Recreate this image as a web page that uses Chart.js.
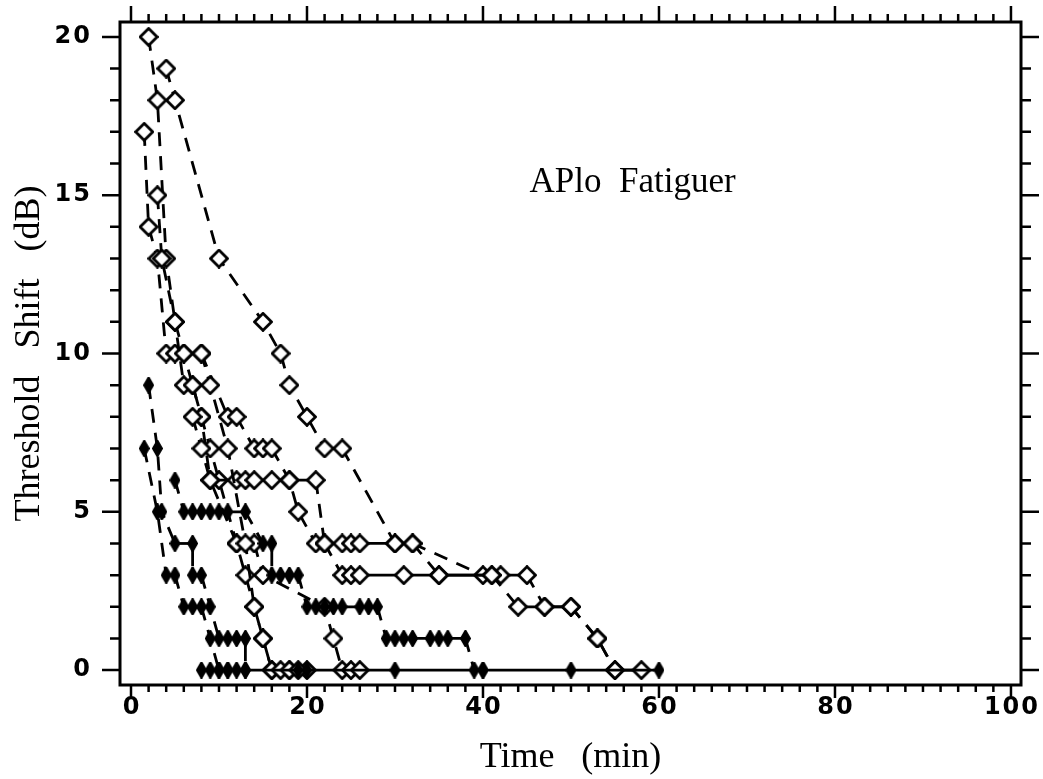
<!DOCTYPE html>
<html>
<head>
<meta charset="utf-8">
<script src="https://cdn.jsdelivr.net/npm/chart.js@4"></script>
<style>
  html, body { margin: 0; padding: 0; background: #fff; }
  #wrap { width: 1043px; height: 779px; }
</style>
</head>
<body>
<div id="wrap"><canvas id="fatigueChart" width="1043" height="779"></canvas></div>
<script>
// recovery curves: time (min) vs threshold shift (dB)
const open1Time = [2, 3, 4, 5, 6, 7, 8, 9, 10, 12, 13, 14, 15, 16, 18, 20];
const open1Shift = [20, 18, 13, 11, 10, 9, 8, 7, 6, 4, 3, 2, 1, 0, 0, 0];

const open2Time = [4, 5, 10, 15, 17, 18, 20, 22, 24, 30, 32, 40, 42, 45, 47, 50, 53, 55, 58];
const open2Shift = [19, 18, 13, 11, 10, 9, 8, 7, 7, 4, 4, 3, 3, 3, 2, 2, 1, 0, 0];

const open3Time = [1.5, 2, 3, 4, 5, 6, 8, 11, 12, 14, 15, 16, 18, 19, 21, 22, 24, 25, 26, 31, 35, 41, 44, 47, 50, 53, 55];
const open3Shift = [17, 14, 13, 10, 10, 10, 10, 8, 8, 7, 7, 7, 6, 5, 4, 4, 3, 3, 3, 3, 3, 3, 2, 2, 2, 1, 0];

const open4Time = [3, 3.5, 5, 6, 7, 8, 9, 12, 13, 14, 16, 18, 21, 22, 24, 25, 26, 30, 32, 35, 41];
const open4Shift = [15, 13, 11, 9, 9, 8, 6, 6, 6, 6, 6, 6, 6, 4, 4, 4, 4, 4, 4, 3, 3];

const open5Time = [7, 8, 9, 12, 14, 15, 22, 23, 24, 25, 26];
const open5Shift = [8, 7, 6, 4, 4, 3, 2, 1, 0, 0, 0];

const open6Time = [8, 9, 11, 13, 14, 15, 16, 17, 18, 19];
const open6Shift = [10, 9, 7, 4, 2, 1, 0, 0, 0, 0];

const filled1Time = [1.5, 3, 4, 5, 6, 7, 8, 9, 10, 11];
const filled1Shift = [7, 5, 3, 3, 2, 2, 2, 1, 0, 0];

const filled2Time = [2, 3, 3.5, 5, 7, 7, 8, 9, 10, 11, 12, 13, 13];
const filled2Shift = [9, 7, 5, 4, 4, 3, 3, 2, 1, 1, 1, 1, 0];

const filled3Time = [5, 6, 7, 8, 9, 10, 11, 13, 15, 16, 16, 17, 18, 19, 20, 21, 22, 23, 24, 26, 27, 28, 29, 30, 31, 32, 34, 35, 36, 38, 39, 40];
const filled3Shift = [6, 5, 5, 5, 5, 5, 5, 5, 4, 4, 3, 3, 3, 3, 2, 2, 2, 2, 2, 2, 2, 2, 1, 1, 1, 1, 1, 1, 1, 1, 0, 0];

const filled4Time = [8, 9, 10, 11, 12, 13, 19, 20, 30, 40, 50, 60];
const filled4Shift = [0, 0, 0, 0, 0, 0, 0, 0, 0, 0, 0, 0];

const xTickLabels = [0, 20, 40, 60, 80, 100];
const yTickLabels = [0, 5, 10, 15, 20];

const makeDiamond = (w, h, filled) => {
    const c = document.createElement('canvas');
    c.width = w;
    c.height = h;
    const g = c.getContext('2d');
    g.beginPath();
    g.moveTo(w / 2, 1.5);
    g.lineTo(w - 1.5, h / 2);
    g.lineTo(w / 2, h - 1.5);
    g.lineTo(1.5, h / 2);
    g.closePath();
    g.fillStyle = filled ? '#000' : '#fff';
    g.fill();
    g.lineWidth = 2.8;
    g.strokeStyle = '#000';
    g.stroke();
    return c;
};

const openMark = makeDiamond(20, 20, false);
const filledMark = makeDiamond(11, 17, true);

const toPoints = (times, shifts) => times.map((t, i) => ({ x: t, y: shifts[i] }));

const makeSeries = (times, shifts, filled) => ({
    data: toPoints(times, shifts),
    showLine: true,
    borderColor: '#000',
    borderWidth: 2.8,
    pointStyle: filled ? filledMark : openMark,
    pointRadius: 10,
    pointHoverRadius: 10,
    segment: {
        borderDash: ctx => ctx.p0.parsed.y === ctx.p1.parsed.y ? [] : [14, 10]
    }
});

// frame, tick marks on all four sides (long at labelled values), tick labels, note
const framePlugin = {
    id: 'frame',
    beforeDatasetsDraw(chart) {
        const { ctx, chartArea: a, scales: { x, y } } = chart;
        ctx.save();
        ctx.strokeStyle = '#000';
        ctx.lineWidth = 3;
        ctx.strokeRect(a.left, a.top, a.right - a.left, a.bottom - a.top);
        ctx.lineWidth = 2.5;
        ctx.beginPath();
        for (let v = 0; v <= 100; v += 2) {
            const px = x.getPixelForValue(v);
            const major = v % 20 === 0;
            ctx.moveTo(px, a.bottom);
            ctx.lineTo(px, a.bottom + (major ? 13 : 7));
            ctx.moveTo(px, a.top);
            ctx.lineTo(px, a.top - (major ? 16 : 8));
        }
        for (let v = 0; v <= 20; v += 1) {
            const py = y.getPixelForValue(v);
            const len = v % 5 === 0 ? 18 : 10;
            ctx.moveTo(a.left, py);
            ctx.lineTo(a.left - len, py);
            ctx.moveTo(a.right, py);
            ctx.lineTo(a.right + len, py);
        }
        ctx.stroke();

        ctx.fillStyle = '#000';
        ctx.font = 'bold 24px "DejaVu Sans"';
        ctx.letterSpacing = '2px';
        ctx.textBaseline = 'middle';
        ctx.textAlign = 'center';
        xTickLabels.forEach(v => {
            ctx.fillText(String(v), x.getPixelForValue(v) + 1, a.bottom + 23);
        });
        ctx.textAlign = 'right';
        yTickLabels.forEach(v => {
            ctx.fillText(String(v), a.left - 28, y.getPixelForValue(v));
        });

        ctx.letterSpacing = '0px';
        ctx.font = '35px "Liberation Serif"';
        ctx.textAlign = 'center';
        ctx.fillText('APlo  Fatiguer', x.getPixelForValue(57), y.getPixelForValue(15.4));
        ctx.restore();
    }
};

new Chart(document.getElementById('fatigueChart'), {
    type: 'scatter',
    data: {
        datasets: [
            makeSeries(filled4Time, filled4Shift, true),
            makeSeries(filled3Time, filled3Shift, true),
            makeSeries(filled2Time, filled2Shift, true),
            makeSeries(filled1Time, filled1Shift, true),
            makeSeries(open6Time, open6Shift, false),
            makeSeries(open5Time, open5Shift, false),
            makeSeries(open4Time, open4Shift, false),
            makeSeries(open3Time, open3Shift, false),
            makeSeries(open2Time, open2Shift, false),
            makeSeries(open1Time, open1Shift, false)
        ]
    },
    options: {
        responsive: false,
        animation: false,
        layout: { padding: { top: 22, right: 22, left: 0, bottom: 0 } },
        plugins: {
            legend: { display: false },
            tooltip: { enabled: false }
        },
        scales: {
            x: {
                type: 'linear',
                min: -1.25,
                max: 101.14,
                grid: { display: false, drawTicks: false },
                border: { display: false },
                afterFit: s => {
                    s.height = 94;
                    s.paddingLeft = 0;
                    s.paddingRight = 0;
                },
                ticks: { display: false, stepSize: 2, includeBounds: false },
                title: {
                    display: true,
                    text: 'Time   (min)',
                    color: '#000',
                    font: { family: 'Liberation Serif', size: 36 },
                    padding: { top: 0, bottom: 0 }
                }
            },
            y: {
                type: 'linear',
                min: -0.47,
                max: 20.47,
                grid: { display: false, drawTicks: false },
                border: { display: false },
                afterFit: s => {
                    s.width = 120;
                    s.paddingTop = 0;
                    s.paddingBottom = 0;
                },
                ticks: { display: false, stepSize: 1, includeBounds: false },
                title: {
                    display: true,
                    text: 'Threshold   Shift   (dB)',
                    color: '#000',
                    font: { family: 'Liberation Serif', size: 36 },
                    padding: { top: 8, bottom: 0 }
                }
            }
        }
    },
    plugins: [framePlugin]
});
</script>
</body>
</html>
